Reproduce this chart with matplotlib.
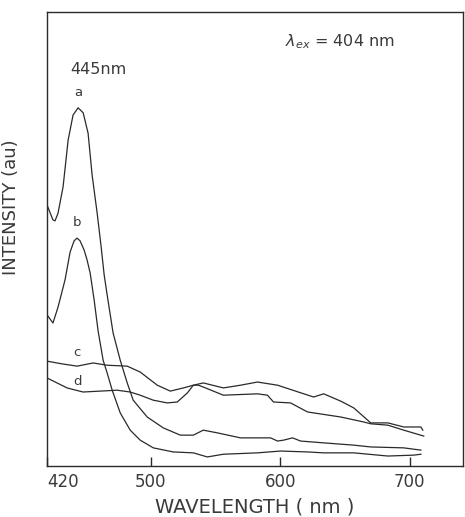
import matplotlib
matplotlib.use("Agg")
import matplotlib.pyplot as plt

# ---- data (intensity in arbitrary units) ----
wl_a = [420, 424.6, 426.2, 428.5, 432.4, 436.3, 440.1, 444.0, 447.9, 451.7, 454.8,
        458.7, 461.8, 464.1, 466.4, 471.0, 476.5, 481.9, 486.5, 497.3, 509.7, 522.9,
        532.9, 540.6, 551.5, 569.3, 592.5, 597.9, 602.5, 609.5, 615.7, 633.5, 656.7,
        669.8, 695.3, 708.5]
int_a = [57.5, 54.2, 54.0, 55.7, 61.5, 71.8, 77.3, 78.9, 77.8, 73.3, 64.1,
         55.7, 48.2, 42.1, 37.7, 29.3, 23.3, 18.3, 14.5, 10.8, 8.4, 6.8,
         6.8, 7.9, 7.3, 6.2, 6.2, 5.5, 5.7, 6.2, 5.5, 5.1, 4.6,
         4.2, 4.0, 3.5]

wl_b = [420, 424.6, 428.5, 433.9, 437.8, 440.9, 443.2, 445.5, 448.6, 450.9, 453.3,
        456.4, 459.4, 463.3, 466.4, 470.3, 476.5, 484.2, 491.9, 502.0, 517.4, 532.9,
        543.7, 556.1, 582.4, 600.2, 621.1, 633.5, 656.7, 683.0, 703.1, 708.5]
int_b = [33.3, 31.5, 35.0, 41.0, 47.1, 49.6, 50.2, 49.6, 47.6, 45.4, 42.5,
         36.5, 29.8, 23.3, 20.5, 16.7, 11.7, 7.9, 5.7, 4.0, 3.1, 2.9,
         2.0, 2.6, 2.9, 3.3, 3.1, 2.9, 2.9, 2.2, 2.4, 2.6]

wl_c = [420, 431.6, 443.2, 455.6, 466.4, 481.9, 491.9, 505.1, 515.1, 525.2, 532.9,
        540.6, 556.1, 569.3, 582.4, 597.9, 611.8, 625.7, 633.5, 646.6, 656.7, 669.8,
        683.0, 695.3, 708.5, 710.0]
int_c = [23.1, 22.5, 22.0, 22.7, 22.2, 22.0, 20.7, 17.8, 16.5, 17.2, 17.8,
         18.3, 17.2, 17.8, 18.5, 17.8, 16.5, 15.2, 15.9, 14.3, 12.8, 9.5,
         9.5, 8.6, 8.6, 7.9]

wl_d = [420, 435.5, 447.8, 474.1, 484.2, 491.9, 502.0, 512.8, 520.5, 528.3, 532.9,
        536.8, 540.6, 556.1, 582.4, 590.1, 594.8, 607.9, 621.1, 646.6, 664.4, 669.8,
        683.0, 695.3, 710.7]
int_d = [19.4, 17.2, 16.3, 16.7, 16.3, 15.6, 14.5, 13.9, 14.1, 16.1, 17.8,
         17.8, 17.4, 15.6, 15.9, 15.6, 14.1, 13.9, 11.9, 10.8, 9.7, 9.3,
         9.0, 7.9, 6.6]

xtick_values = [420, 500, 600, 700]
xtick_labels = ["420", "500", "600", "700"]

ink = "#2a2a2a"
txt = "#3a3a3a"

fig = plt.figure(figsize=(4.65, 5.17), dpi=100)
ax = fig.add_axes([0.1011, 0.0986, 0.8946, 0.8782])

for x, y in [(wl_a, int_a), (wl_b, int_b), (wl_c, int_c), (wl_d, int_d)]:
    ax.plot(x, y, color=ink, lw=0.9, solid_joinstyle="round")

ax.set_xlim(420, 741)
ax.set_ylim(0, 100)

for s in ax.spines.values():
    s.set_color(ink)
    s.set_linewidth(1.0)

ax.set_yticks([])
ax.set_xticks(xtick_values)
ax.set_xticklabels(xtick_labels, fontsize=12, color=txt)
ax.get_xticklabels()[0].set_horizontalalignment("left")
ax.tick_params(axis="x", direction="in", length=6.5, width=1.0, color=ink, pad=5)

ax.set_xlabel("WAVELENGTH ( nm )", fontsize=14, color=txt, labelpad=5)
ax.set_ylabel("INTENSITY (au)", fontsize=13, color=txt)
ax.yaxis.set_label_coords(-0.065, 0.57)

# annotations
ax.text(459.4, 87.4, "445nm", fontsize=11.5, color=txt, ha="center", va="center")
ax.text(444.0, 82.2, "a", fontsize=9.5, color=txt, ha="center", va="center")
ax.text(443.2, 53.7, "b", fontsize=9.5, color=txt, ha="center", va="center")
ax.text(443.2, 25.1, "c", fontsize=9.5, color=txt, ha="center", va="center")
ax.text(443.2, 18.7, "d", fontsize=9.5, color=txt, ha="center", va="center")
ax.text(604, 93.4, r"$\lambda_{ex}$ = 404 nm", fontsize=11.5, color=txt,
        ha="left", va="center")

fig.savefig("out.png", dpi=100)
